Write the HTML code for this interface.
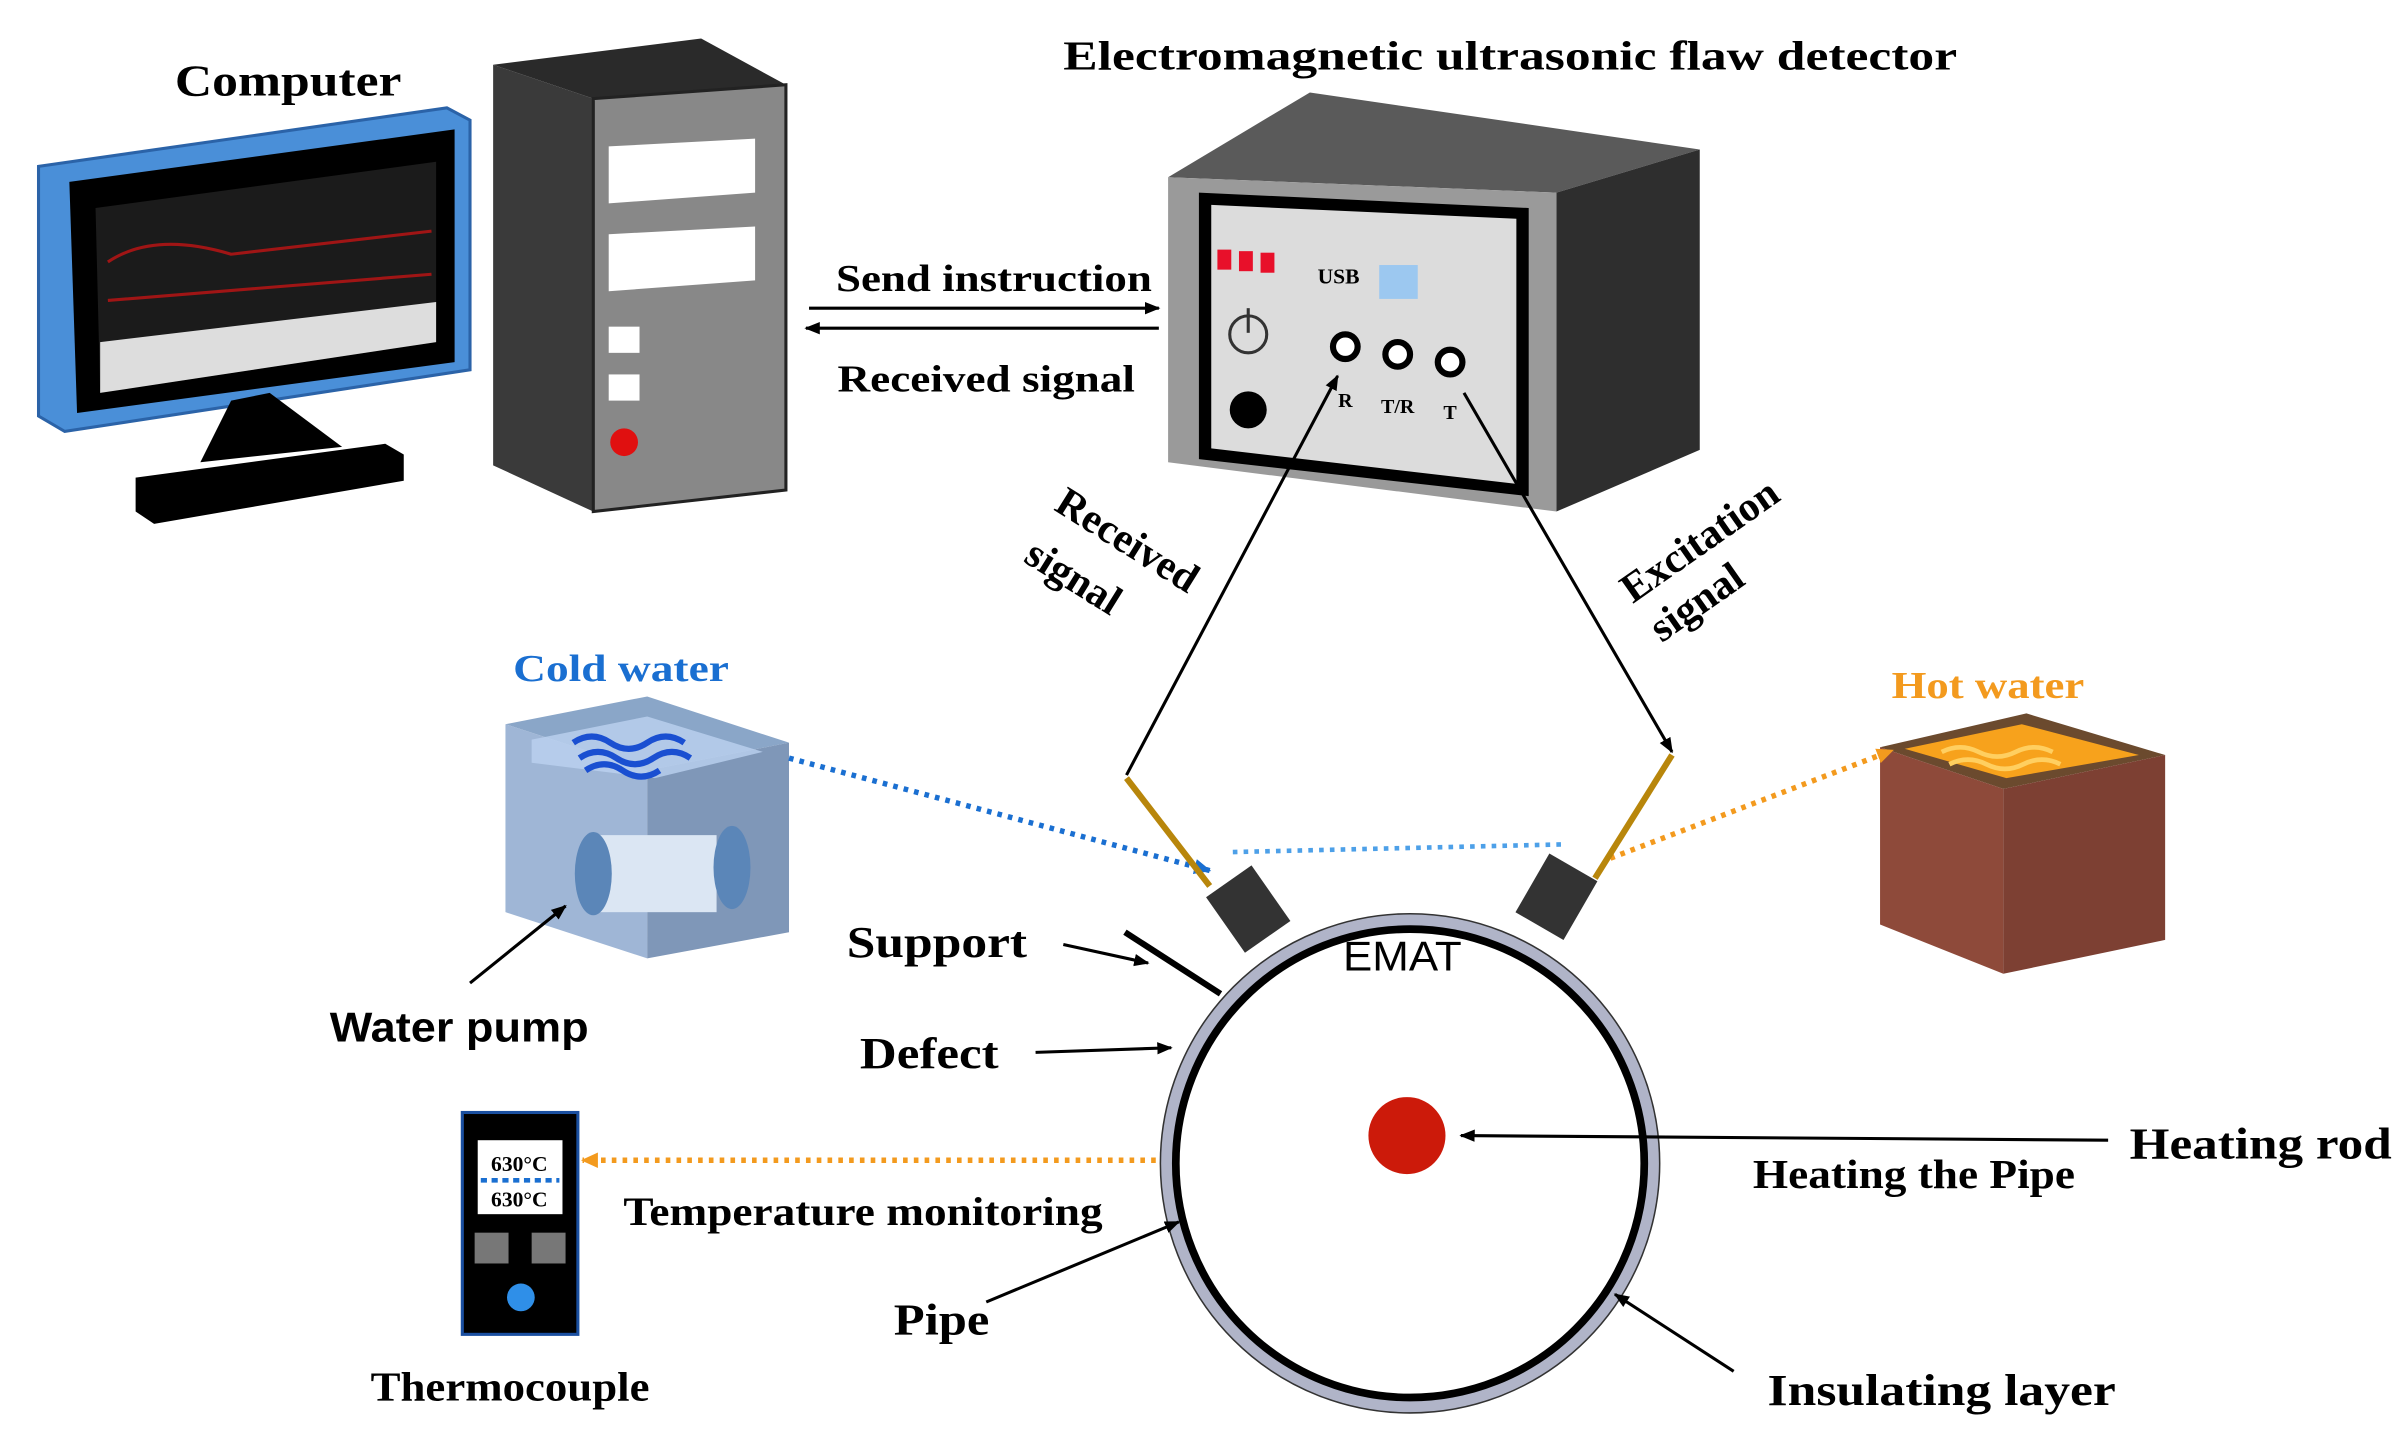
<!DOCTYPE html>
<html><head><meta charset="utf-8">
<style>
html,body{margin:0;padding:0;background:#fff;}
svg{display:block;}
.t{font-family:"Liberation Serif",serif;font-weight:bold;}
.s{font-family:"Liberation Sans",sans-serif;}
</style></head>
<body>
<svg width="2404" height="1453" viewBox="0 0 1560 943" preserveAspectRatio="none" xmlns="http://www.w3.org/2000/svg">
<defs>
<marker id="ab" markerWidth="10" markerHeight="10" refX="9" refY="5" orient="auto" markerUnits="userSpaceOnUse"><path d="M0,1 L10,5 L0,9 z" fill="#000"/></marker>
<marker id="abl" markerWidth="12" markerHeight="12" refX="10" refY="6" orient="auto" markerUnits="userSpaceOnUse"><path d="M0,1 L11,6 L0,11 z" fill="#1a6fd1"/></marker>
<marker id="abo" markerWidth="12" markerHeight="12" refX="10" refY="6" orient="auto" markerUnits="userSpaceOnUse"><path d="M0,1 L11,6 L0,11 z" fill="#f39a1e"/></marker>
</defs>
<rect width="1560" height="943" fill="#fff"/>

<!-- Computer -->
<text x="187" y="62" class="t" font-size="29" text-anchor="middle" textLength="147" lengthAdjust="spacingAndGlyphs">Computer</text>
<polygon points="25,108 290,70 305,78 305,240 42,280 25,270" fill="#4a8fd8" stroke="#2b63a8" stroke-width="2"/>
<polygon points="45,118 295,84 295,235 50,268" fill="#000"/>
<polygon points="62,135 283,105 283,222 65,255" fill="#1b1b1b"/>
<polygon points="65,222 283,196 283,222 65,255" fill="#ddd"/>
<path d="M70,170 Q100,150 150,165 L280,150 M70,195 L280,178" stroke="#a01515" stroke-width="2" fill="none"/>
<polygon points="150,260 175,255 222,290 130,300" fill="#000"/>
<polygon points="88,310 250,288 262,295 262,312 100,340 88,332" fill="#000"/>
<!-- Tower -->
<polygon points="320,42 455,25 510,55 385,64" fill="#2a2a2a"/>
<polygon points="320,42 385,64 385,332 320,302" fill="#3a3a3a"/>
<polygon points="385,64 510,55 510,318 385,332" fill="#888" stroke="#222" stroke-width="2"/>
<polygon points="395,95 490,90 490,125 395,132" fill="#fff"/>
<polygon points="395,152 490,147 490,182 395,189" fill="#fff"/>
<rect x="395" y="212" width="20" height="17" fill="#fff"/>
<rect x="395" y="243" width="20" height="17" fill="#fff"/>
<circle cx="405" cy="287" r="9" fill="#e01010"/>

<!-- Arrows between -->
<line x1="525" y1="200" x2="752" y2="200" stroke="#000" stroke-width="2" marker-end="url(#ab)"/>
<line x1="752" y1="213" x2="523" y2="213" stroke="#000" stroke-width="2" marker-end="url(#ab)"/>
<text x="645" y="189" class="t" font-size="25" text-anchor="middle" textLength="205" lengthAdjust="spacingAndGlyphs">Send instruction</text>
<text x="640" y="254" class="t" font-size="25" text-anchor="middle" textLength="193" lengthAdjust="spacingAndGlyphs">Received signal</text>

<!-- Detector -->
<text x="980" y="45" class="t" font-size="27" text-anchor="middle" textLength="580" lengthAdjust="spacingAndGlyphs">Electromagnetic ultrasonic flaw detector</text>
<polygon points="758,115 850,60 1103,97 1010,125" fill="#5a5a5a"/>
<polygon points="1010,125 1103,97 1103,292 1010,332" fill="#2e2e2e"/>
<polygon points="758,115 1010,125 1010,332 758,300" fill="#9a9a9a"/>
<polygon points="778,125 992,135 992,322 778,298" fill="#000"/>
<polygon points="786,133 984,142 984,314 786,291" fill="#dcdcdc"/>
<rect x="790" y="162" width="9" height="13" fill="#e8102a"/>
<rect x="804" y="163" width="9" height="13" fill="#e8102a"/>
<rect x="818" y="164" width="9" height="13" fill="#e8102a"/>
<text x="855" y="184" class="t" font-size="14">USB</text>
<rect x="895" y="172" width="25" height="22" fill="#9cc8f0"/>
<circle cx="810" cy="217" r="12" fill="none" stroke="#333" stroke-width="2"/>
<line x1="810" y1="200" x2="810" y2="216" stroke="#333" stroke-width="2"/>
<circle cx="810" cy="266" r="12" fill="#000"/>
<circle cx="873" cy="225" r="8" fill="#fff" stroke="#000" stroke-width="4"/>
<circle cx="907" cy="230" r="8" fill="#fff" stroke="#000" stroke-width="4"/>
<circle cx="941" cy="235" r="8" fill="#fff" stroke="#000" stroke-width="4"/>
<text x="873" y="264" class="t" font-size="13" text-anchor="middle">R</text>
<text x="907" y="268" class="t" font-size="13" text-anchor="middle">T/R</text>
<text x="941" y="272" class="t" font-size="13" text-anchor="middle">T</text>

<!-- Signal lines -->
<line x1="731" y1="503" x2="868" y2="244" stroke="#000" stroke-width="2" marker-end="url(#ab)"/>
<line x1="950" y1="255" x2="1085" y2="488" stroke="#000" stroke-width="2" marker-end="url(#ab)"/>
<text transform="translate(727,358) rotate(32)" class="t" font-size="27" text-anchor="middle">Received</text>
<text transform="translate(692,382) rotate(32)" class="t" font-size="27" text-anchor="middle">signal</text>
<text transform="translate(1108,358) rotate(-35)" class="t" font-size="27" text-anchor="middle">Excitation</text>
<text transform="translate(1106,398) rotate(-35)" class="t" font-size="27" text-anchor="middle">signal</text>

<!-- Cold water -->
<text x="403" y="442" class="t" font-size="25" fill="#1a6fd1" text-anchor="middle" textLength="140" lengthAdjust="spacingAndGlyphs">Cold water</text>
<polygon points="328,470 420,452 512,482 420,500" fill="#8aa6c8"/>
<polygon points="328,470 420,500 420,622 328,592" fill="#9fb6d6"/>
<polygon points="420,500 512,482 512,605 420,622" fill="#7f97b8"/>
<polygon points="345,480 420,465 495,488 425,505 345,495" fill="#bcd2f0" opacity="0.8"/>
<path d="M372,482 q12,-8 24,0 t24,0 t24,0 M376,492 q12,-8 24,0 t24,0 t24,0 M380,500 q12,-8 24,0 t24,0" stroke="#1a4fd1" stroke-width="4" fill="none"/>
<rect x="385" y="542" width="80" height="50" fill="#dbe6f3"/>
<ellipse cx="385" cy="567" rx="12" ry="27" fill="#5b86b8"/>
<ellipse cx="475" cy="563" rx="12" ry="27" fill="#5b86b8"/>
<line x1="305" y1="638" x2="367" y2="588" stroke="#000" stroke-width="2" marker-end="url(#ab)"/>
<text x="298" y="676" class="s" font-size="27" font-weight="bold" text-anchor="middle" textLength="168" lengthAdjust="spacingAndGlyphs">Water pump</text>
<line x1="512" y1="492" x2="785" y2="565" stroke="#1a6fd1" stroke-width="3.5" stroke-dasharray="3,4" marker-end="url(#abl)"/>
<line x1="800" y1="553" x2="1015" y2="548" stroke="#4da0e8" stroke-width="3" stroke-dasharray="3,4"/>

<!-- Hot water -->
<text x="1290" y="453" class="t" font-size="25" fill="#f39a1e" text-anchor="middle" textLength="125" lengthAdjust="spacingAndGlyphs">Hot water</text>
<polygon points="1220,485 1315,463 1405,490 1300,512" fill="#6b4a2e"/>
<polygon points="1236,486 1312,470 1388,490 1302,505" fill="#f7a21c"/>
<path d="M1260,488 q12,-6 24,0 t24,0 t24,0 M1265,496 q12,-6 24,0 t24,0 t24,0" stroke="#ffcf60" stroke-width="3" fill="none"/>
<polygon points="1220,485 1300,512 1300,632 1220,600" fill="#8e4a3a"/>
<polygon points="1300,512 1405,490 1405,610 1300,632" fill="#7d4033"/>
<line x1="1045" y1="557" x2="1228" y2="487" stroke="#f39a1e" stroke-width="3.5" stroke-dasharray="3,4" marker-end="url(#abo)"/>

<!-- Probes -->
<line x1="731" y1="505" x2="785" y2="575" stroke="#b8860b" stroke-width="4"/>
<line x1="1085" y1="490" x2="1035" y2="570" stroke="#b8860b" stroke-width="4"/>
<rect x="792" y="568" width="36" height="44" fill="#333" transform="rotate(-35 810 590)"/>
<rect x="992" y="560" width="36" height="44" fill="#333" transform="rotate(30 1010 582)"/>

<!-- Pipe -->
<circle cx="915" cy="755" r="162" fill="#b0b4c8" stroke="#333" stroke-width="1"/>
<circle cx="915" cy="755" r="152" fill="#fff" stroke="#000" stroke-width="5"/>
<circle cx="913" cy="737" r="25" fill="#cc1a0a"/>
<text x="910" y="630" class="s" font-size="27" text-anchor="middle" textLength="77" lengthAdjust="spacingAndGlyphs">EMAT</text>
<line x1="730" y1="605" x2="792" y2="645" stroke="#000" stroke-width="4"/>
<text x="608" y="621" class="t" font-size="29" text-anchor="middle" textLength="117" lengthAdjust="spacingAndGlyphs">Support</text>
<line x1="690" y1="613" x2="745" y2="625" stroke="#000" stroke-width="2" marker-end="url(#ab)"/>
<text x="603" y="693" class="t" font-size="29" text-anchor="middle" textLength="90" lengthAdjust="spacingAndGlyphs">Defect</text>
<line x1="672" y1="683" x2="760" y2="680" stroke="#000" stroke-width="2" marker-end="url(#ab)"/>
<line x1="1368" y1="740" x2="948" y2="737" stroke="#000" stroke-width="2" marker-end="url(#ab)"/>
<text x="1467" y="752" class="t" font-size="29" text-anchor="middle" textLength="170" lengthAdjust="spacingAndGlyphs">Heating rod</text>
<text x="1242" y="771" class="t" font-size="27" text-anchor="middle" textLength="209" lengthAdjust="spacingAndGlyphs">Heating the Pipe</text>
<line x1="750" y1="753" x2="378" y2="753" stroke="#f39a1e" stroke-width="3.5" stroke-dasharray="3,4" marker-end="url(#abo)"/>
<text x="560" y="795" class="t" font-size="26" text-anchor="middle" textLength="311" lengthAdjust="spacingAndGlyphs">Temperature monitoring</text>
<line x1="640" y1="845" x2="765" y2="793" stroke="#000" stroke-width="2" marker-end="url(#ab)"/>
<text x="611" y="866" class="t" font-size="29" text-anchor="middle" textLength="62" lengthAdjust="spacingAndGlyphs">Pipe</text>
<line x1="1125" y1="890" x2="1048" y2="840" stroke="#000" stroke-width="2" marker-end="url(#ab)"/>
<text x="1260" y="912" class="t" font-size="29" text-anchor="middle" textLength="226" lengthAdjust="spacingAndGlyphs">Insulating layer</text>

<!-- Thermocouple -->
<rect x="300" y="722" width="75" height="144" fill="#000" stroke="#1a4fa0" stroke-width="2"/>
<rect x="310" y="740" width="55" height="48" fill="#fff"/>
<text x="337" y="760" class="t" font-size="14" text-anchor="middle">630°C</text>
<line x1="312" y1="766" x2="363" y2="766" stroke="#1a6fd1" stroke-width="3" stroke-dasharray="4,3"/>
<text x="337" y="783" class="t" font-size="14" text-anchor="middle">630°C</text>
<rect x="308" y="800" width="22" height="20" fill="#777"/>
<rect x="345" y="800" width="22" height="20" fill="#777"/>
<circle cx="338" cy="842" r="9" fill="#2f8fe8"/>
<text x="331" y="909" class="t" font-size="27" text-anchor="middle" textLength="181" lengthAdjust="spacingAndGlyphs">Thermocouple</text>
</svg>
</body></html>
